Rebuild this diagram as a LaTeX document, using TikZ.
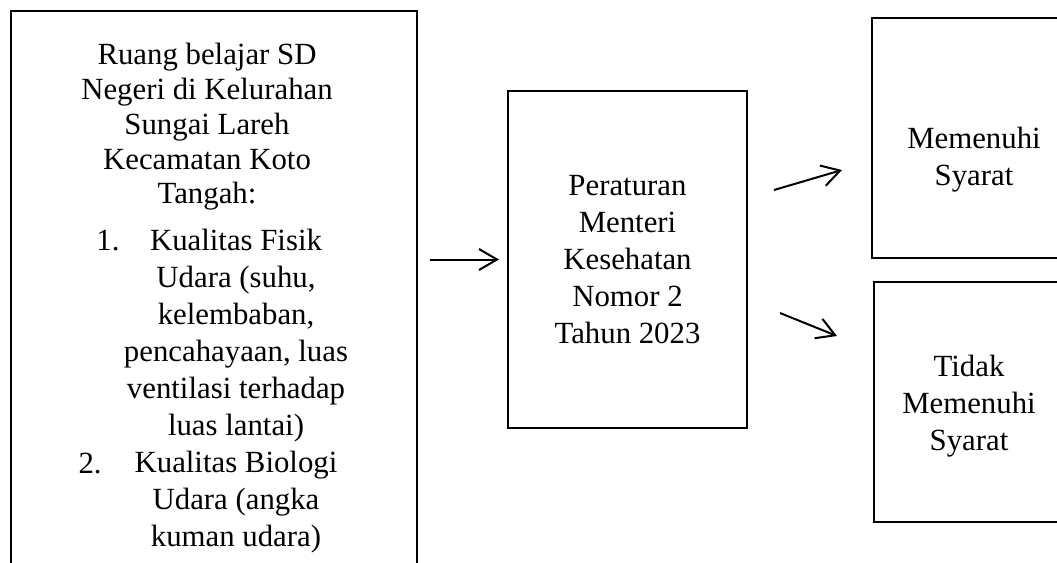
\documentclass[tikz,border=0pt]{standalone}
\usepackage{fontspec}
\setmainfont{Liberation Serif}
\usetikzlibrary{arrows.meta,positioning}

\begin{document}
\begin{tikzpicture}[x=0.5pt, y=-0.5pt,
  kotak/.style={draw, line width=1pt, inner sep=0pt},
  teks/.style={align=center, inner sep=0pt, font=\fontsize{15.4}{18.5}\selectfont},
  panah/.style={line width=1pt, -{Straight Barb[length=9pt, width=10.5pt]}}]

\useasboundingbox (0,0) rectangle (1057,563);
\clip (0,0) rectangle (1057,563);

% kotak kiri (bawahnya terpotong)
\node[kotak, anchor=north west, minimum width=203pt, minimum height=300pt] (subjek) at (10,10) {};
\node[teks, anchor=north, font=\fontsize{15.4}{17.4}\selectfont] (judul) at (207,43) {Ruang belajar SD\\Negeri di Kelurahan\\Sungai Lareh\\Kecamatan Koto\\Tangah:};
\node[teks, anchor=north] (isi) at (236,229) {Kualitas Fisik\\Udara (suhu,\\kelembaban,\\pencahayaan, luas\\ventilasi terhadap\\luas lantai)\\Kualitas Biologi\\Udara (angka\\kuman udara)};
\node[teks, anchor=base east] (no1) at (120,250) {1.};
\node[teks, anchor=base east] (no2) at (102,473) {2.};

\node[kotak, teks, minimum width=119.5pt, minimum height=168.5pt] (aturan) at (627.5,259.5) {Peraturan\\Menteri\\Kesehatan\\Nomor 2\\Tahun 2023};

% kotak kanan (sisi kanannya terpotong)
\node[kotak, anchor=north west, minimum width=102pt, minimum height=120pt] (memenuhi) at (871,17) {};
\node[teks] (tmemenuhi) at ([yshift=-11pt]memenuhi.center) {Memenuhi\\Syarat};
\node[kotak, anchor=north west, minimum width=95pt, minimum height=120pt] (tidak) at (873,281) {};
\node[teks] (ttidak) at ([yshift=-2pt]tidak.center) {Tidak\\Memenuhi\\Syarat};

\draw[panah, shorten <=6pt, shorten >=4pt] (subjek.east |- aturan.west) -- (aturan.west);
\draw[panah] ([shift={(13pt,34.75pt)}]aturan.east) -- ([shift={(-14.5pt,-16pt)}]memenuhi.west);
\draw[panah] ([shift={(16pt,-26.75pt)}]aturan.east) -- ([shift={(-18pt,33pt)}]tidak.west);
\end{tikzpicture}
\end{document}
